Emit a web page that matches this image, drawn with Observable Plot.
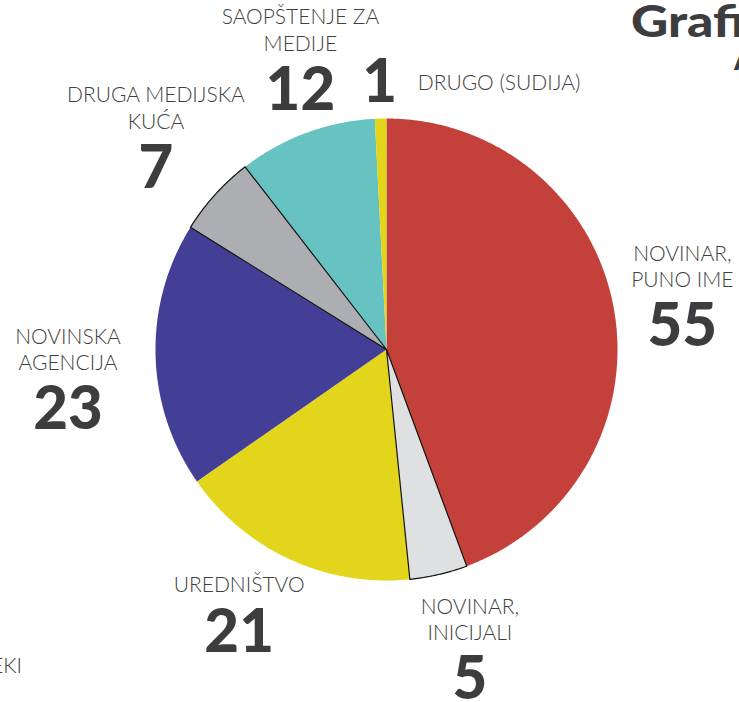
<!DOCTYPE html>
<html>
<head>
<meta charset="utf-8">
<script src="https://cdn.jsdelivr.net/npm/d3@7"></script>
<script src="https://cdn.jsdelivr.net/npm/@observablehq/plot@0.6"></script>
<style>
  html, body { margin: 0; padding: 0; background: #fff; }
  #wrap { position: relative; width: 739px; height: 702px; overflow: hidden; background: #fff; }
  #chart { position: absolute; left: 0; top: 0; }
  .frag { position: absolute; white-space: nowrap; color: #3d3d3f; font-family: Lato, sans-serif; }
  #title { left: 631px; top: -6px; font-size: 44px; font-weight: 900; transform: scaleX(1.17); transform-origin: 0 0; }
  #subtitle { left: 734px; top: 40px; font-size: 30px; font-weight: 900; }
  #side { left: -9px; top: 652px; font-size: 21px; font-weight: 300; color: #3f3f41; }
</style>
</head>
<body>
<div id="wrap">
  <div id="chart"></div>
  <div class="frag" id="title">Grafikon</div>
  <div class="frag" id="subtitle">A</div>
  <div class="frag" id="side">EKI</div>
</div>
<script>
// ---- data ----
const categories = ["NOVINAR,\nPUNO IME", "NOVINAR,\nINICIJALI", "UREDNIŠTVO", "NOVINSKA\nAGENCIJA", "DRUGA MEDIJSKA\nKUĆA", "SAOPŠTENJE ZA\nMEDIJE", "DRUGO (SUDIJA)"];
const values = [55, 5, 21, 23, 7, 12, 1];
const colors = ["#c4403b", "#dfe0e2", "#e2d51b", "#433f97", "#adaeb2", "#67c3c1", "#e2d51b"];
const outlined = [false, true, false, false, true, false, false];

// ---- layout ----
const W = 739, H = 702, CX = 386, CY = 349, R = 231;
const labelK = 1.31;
const nudge = [[-2, 0], [15, 5], [-21, -23], [-16, 22], [-6, -9], [19, -6], [0, 0]];

const arcs = d3.pie().sort(null).value(d => d)(values);

const slicePts = [];
arcs.forEach((a, i) => {
  slicePts.push({i, x: 0, y: 0});
  const n = Math.max(2, Math.ceil((a.endAngle - a.startAngle) / (Math.PI / 360)));
  for (let k = 0; k <= n; ++k) {
    const t = a.startAngle + (a.endAngle - a.startAngle) * k / n;
    slicePts.push({i, x: Math.sin(t), y: Math.cos(t)});
  }
  slicePts.push({i, x: 0, y: 0});
});

const labels = arcs.map((a, i) => {
  const mid = (a.startAngle + a.endAngle) / 2;
  const special = i === 6;
  const k = special ? 1.155 : labelK;
  return {
    i,
    name: categories[i],
    value: values[i],
    x: k * Math.sin(mid) + nudge[i][0] / R,
    y: k * Math.cos(mid) - nudge[i][1] / R,
    special
  };
});
const regular = labels.filter(d => !d.special);
const single = labels.filter(d => d.special);

const labelFont = {fontSize: 21, fontWeight: 300, fill: "#3f3f41", fontFamily: "Lato, sans-serif"};
const numFont = {fontSize: 60, fontWeight: 900, fill: "#3d3d3f", fontFamily: "Lato, sans-serif"};

const chart = Plot.plot({
  width: W, height: H,
  margin: 0,
  x: {domain: [-CX / R, (W - CX) / R], range: [0, W], axis: null},
  y: {domain: [-(H - CY) / R, CY / R], range: [H, 0], axis: null},
  color: {type: "identity"},
  style: {background: "transparent"},
  marks: [
    Plot.line(slicePts, {x: "x", y: "y", z: "i", fill: d => colors[d.i], stroke: "none", curve: "linear"}),
    Plot.line(slicePts.filter(d => outlined[d.i]), {x: "x", y: "y", z: "i", fill: "none", stroke: "#111", strokeWidth: 1.2, curve: "linear"}),
    Plot.text(regular, {x: "x", y: "y", text: "name", lineAnchor: "bottom", dy: -9, lineHeight: 1.25, ...labelFont}),
    Plot.text(regular, {x: "x", y: "y", text: d => String(d.value), lineAnchor: "middle", dy: 31, ...numFont}),
    Plot.text(single, {x: "x", y: "y", text: d => String(d.value), lineAnchor: "middle", ...numFont}),
    Plot.text(single, {x: "x", y: "y", text: "name", lineAnchor: "middle", textAnchor: "start", dx: 38, ...labelFont})
  ]
});
document.getElementById("chart").appendChild(chart);
</script>
</body>
</html>
